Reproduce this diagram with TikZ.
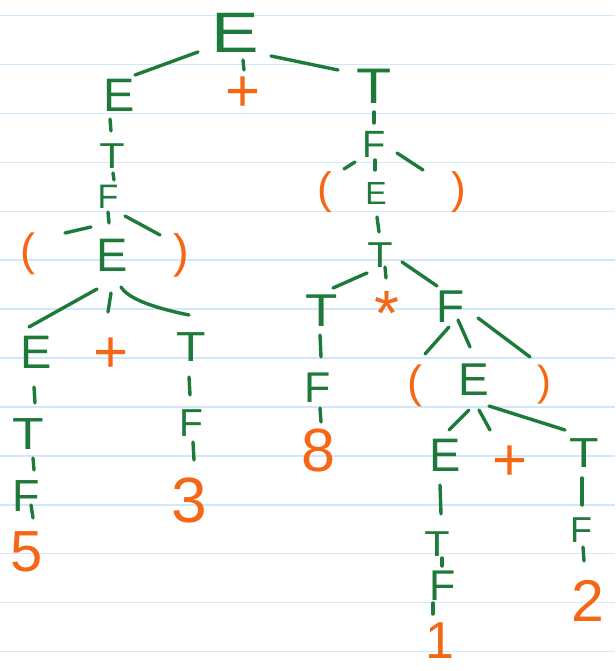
\documentclass[tikz,border=0pt]{standalone}
\usepackage{fontspec}
\setmainfont{Liberation Sans}
\newfontfamily\handwide[FakeStretch=1.15]{Liberation Sans}
\definecolor{ngreen}{RGB}{30,122,58}
\definecolor{torange}{RGB}{247,102,20}
\definecolor{paperline}{RGB}{208,232,249}
\begin{document}
\begin{tikzpicture}[x=1pt,y=-1pt,
  nt/.style={text=ngreen, inner sep=0pt, outer sep=0pt, font=\fontsize{#1}{#1}\selectfont},
  ntw/.style={text=ngreen, inner sep=0pt, outer sep=0pt, font=\handwide\fontsize{#1}{#1}\selectfont},
  term/.style={text=torange, inner sep=0pt, outer sep=0pt, font=\fontsize{#1}{#1}\selectfont},
  conn/.style={draw=ngreen, line width=3.4pt, line cap=round},
  ruling/.style={draw=paperline, line width=1.6pt}]
\useasboundingbox (0,0) rectangle (615,671);
\fill[white] (0,0) rectangle (615,671);
\foreach \k in {0,...,13} \draw[ruling] (0,15.7+48.9*\k) -- (615,15.7+48.9*\k);

% nonterminals
\node[nt=57] (E0) at (235,33) {\scalebox{1.25}[1]{E}};
\node[nt=47] (E1) at (119,95) {E};
\node[ntw=36] (T1) at (112,156) {T};
\node[nt=34] (F1) at (108,197) {F};
\node[nt=47] (E2) at (112,255) {E};
\node[nt=47] (E3) at (36,352) {E};
\node[ntw=42] (T3) at (191,347) {T};
\node[ntw=45] (T4) at (28,434) {T};
\node[nt=45] (F4) at (26,496) {F};
\node[nt=39] (F5) at (191,423) {F};
\node[ntw=50] (T0) at (374,86) {T};
\node[nt=38] (F0) at (374,144) {F};
\node[nt=32] (E4) at (376,193) {E};
\node[ntw=36] (T5) at (380,255) {T};
\node[ntw=46] (T6) at (322,311) {T};
\node[nt=43] (F6) at (318,388) {F};
\node[nt=46] (F7) at (451,307) {F};
\node[nt=46] (E5) at (474,380) {E};
\node[nt=47] (E6) at (445,455) {E};
\node[ntw=42] (T7) at (584,453) {T};
\node[ntw=36] (T8) at (437,544) {T};
\node[nt=43] (F8) at (443,586) {F};
\node[nt=36] (F9) at (581,530) {F};

% terminals
\node[term=60] (plus0) at (243,94) {+};
\node[term=45] (lpar1) at (28,254) {(};
\node[term=47] (rpar1) at (181,255) {)};
\node[term=60] (plus1) at (111,355) {+};
\node[term=58] (five) at (27,552) {5};
\node[term=64] (three) at (189,500) {3};
\node[term=44] (lpar2) at (325,192) {(};
\node[term=44] (rpar2) at (459,192) {)};
\node[term=64] (star) at (387,313) {*};
\node[term=61] (eight) at (318,450) {8};
\node[term=45] (lpar3) at (415,386) {(};
\node[term=42] (rpar3) at (544,385) {)};
\node[term=60] (plus2) at (510,463) {+};
\node[term=52] (one) at (440,641) {1};
\node[term=59] (two) at (588,601) {2};

% connectors
\draw[conn] ([shift={(-37,19)}]E0.center) -- ([shift={(16,-20)}]E1.center);
\draw[conn] ([shift={(8,27)}]E0.center) -- ([shift={(1,-24)}]plus0.center);
\draw[conn] ([shift={(36,23)}]E0.center) -- ([shift={(-36,-16)}]T0.center);
\draw[conn] ([shift={(-9,24)}]E1.center) -- ([shift={(-1,-25)}]T1.center);
\draw[conn] ([shift={(1,17)}]T1.center) -- ([shift={(6,-17)}]F1.center);
\draw[conn] ([shift={(-17,30)}]F1.center) -- ([shift={(37,-21)}]lpar1.center);
\draw[conn] ([shift={(0,15)}]F1.center) -- ([shift={(-3,-32)}]E2.center);
\draw[conn] ([shift={(17,19)}]F1.center) -- ([shift={(-21,-20)}]rpar1.center);
\draw[conn] ([shift={(-15,34)}]E2.center) -- ([shift={(-7,-25)}]E3.center);
\draw[conn] ([shift={(-1,38)}]E2.center) -- ([shift={(-3,-43)}]plus1.center);
\draw[conn] ([shift={(9,32)}]E2.center) .. controls ([shift={(16,43)}]E2.center) and ([shift={(-41,-40)}]T3.center) .. ([shift={(-2,-32)}]T3.center);
\draw[conn] ([shift={(-2,35)}]E3.center) -- ([shift={(7,-31)}]T4.center);
\draw[conn] ([shift={(5,24)}]T4.center) -- ([shift={(8,-26)}]F4.center);
\draw[conn] ([shift={(5,9)}]F4.center) -- ([shift={(6,-34)}]five.center);
\draw[conn] ([shift={(-2,30)}]T3.center) -- ([shift={(-1,-28)}]F5.center);
\draw[conn] ([shift={(2,19)}]F5.center) -- ([shift={(5,-40)}]three.center);
\draw[conn] ([shift={(0,26)}]T0.center) -- ([shift={(0,-21)}]F0.center);
\draw[conn] ([shift={(-19,18)}]F0.center) -- ([shift={(19,-23)}]lpar2.center);
\draw[conn] ([shift={(1,16)}]F0.center) -- ([shift={(-1,-23)}]E4.center);
\draw[conn] ([shift={(23,9)}]F0.center) -- ([shift={(-36,-22)}]rpar2.center);
\draw[conn] ([shift={(1,24)}]E4.center) -- ([shift={(-1,-23)}]T5.center);
\draw[conn] ([shift={(-13,18)}]T5.center) -- ([shift={(11,-23)}]T6.center);
\draw[conn] ([shift={(5,12)}]T5.center) -- ([shift={(-1,-35)}]star.center);
\draw[conn] ([shift={(22,7)}]T5.center) -- ([shift={(-14,-21)}]F7.center);
\draw[conn] ([shift={(-2,24)}]T6.center) -- ([shift={(3,-31)}]F6.center);
\draw[conn] ([shift={(2,20)}]F6.center) -- ([shift={(3,-28)}]eight.center);
\draw[conn] ([shift={(-2,20)}]F7.center) -- ([shift={(10,-32)}]lpar3.center);
\draw[conn] ([shift={(7,13)}]F7.center) -- ([shift={(-4,-33)}]E5.center);
\draw[conn] ([shift={(27,11)}]F7.center) -- ([shift={(-14,-28)}]rpar3.center);
\draw[conn] ([shift={(-5,30)}]E5.center) -- ([shift={(4,-25)}]E6.center);
\draw[conn] ([shift={(5,30)}]E5.center) -- ([shift={(-20,-33)}]plus2.center);
\draw[conn] ([shift={(15,26)}]E5.center) -- ([shift={(-19,-23)}]T7.center);
\draw[conn] ([shift={(-5,30)}]E6.center) -- ([shift={(4,-30)}]T8.center);
\draw[conn] ([shift={(5,14)}]T8.center) -- ([shift={(-1,-20)}]F8.center);
\draw[conn] ([shift={(-10,17)}]F8.center) -- ([shift={(-7,-27)}]one.center);
\draw[conn] ([shift={(-2,25)}]T7.center) -- ([shift={(1,-25)}]F9.center);
\draw[conn] ([shift={(2,17)}]F9.center) -- ([shift={(-4,-40)}]two.center);
\end{tikzpicture}
\end{document}
